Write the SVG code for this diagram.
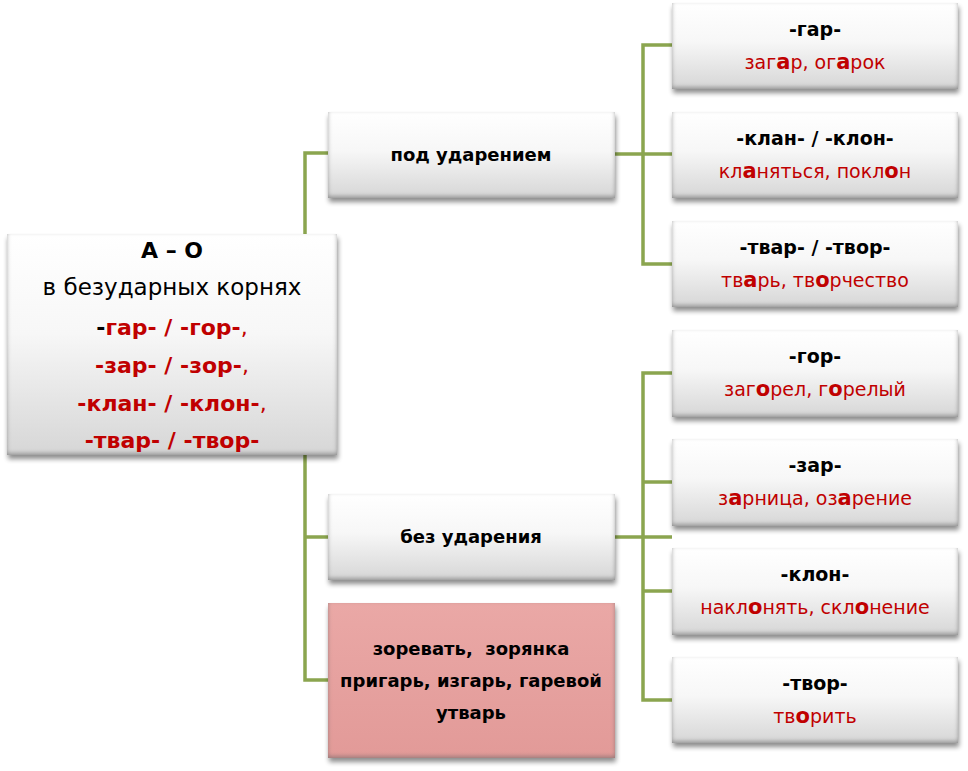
<svg xmlns="http://www.w3.org/2000/svg" width="968" height="771" viewBox="0 0 968 771">
<defs>
<linearGradient id="gw" x1="0" y1="0" x2="0" y2="1">
<stop offset="0" stop-color="#ffffff"/>
<stop offset="0.45" stop-color="#f7f7f7"/>
<stop offset="1" stop-color="#d6d6d6"/>
</linearGradient>
<linearGradient id="gp" x1="0" y1="0" x2="0" y2="1">
<stop offset="0" stop-color="#eaa8a6"/>
<stop offset="1" stop-color="#e29a98"/>
</linearGradient>
<filter id="sh" x="-10%" y="-10%" width="125%" height="130%">
<feGaussianBlur in="SourceAlpha" stdDeviation="2" result="b1"/>
<feOffset in="b1" dy="-2" result="o1"/>
<feComposite in="SourceAlpha" in2="o1" operator="arithmetic" k2="1" k3="-1" result="inner"/>
<feFlood flood-color="#6e6e6e" flood-opacity="0.75"/>
<feComposite in2="inner" operator="in" result="innerc"/>
<feGaussianBlur in="SourceAlpha" stdDeviation="2.5"/>
<feOffset dx="1" dy="4"/>
<feComponentTransfer result="drop"><feFuncA type="linear" slope="0.45"/></feComponentTransfer>
<feMerge><feMergeNode in="drop"/><feMergeNode in="SourceGraphic"/><feMergeNode in="innerc"/></feMerge>
</filter>
</defs>
<style>
.box{fill:url(#gw);filter:url(#sh)}
.pink{fill:url(#gp);filter:url(#sh)}
.con{fill:none;stroke:#8ba54f;stroke-width:3.5}
text{font-family:"DejaVu Sans","Liberation Sans",sans-serif;text-anchor:middle}
.t{font-weight:bold;font-size:18px;fill:#000}
.r{font-weight:bold;font-size:19px;fill:#000}
.s{font-size:19px;fill:#c00000}
.s tspan{font-weight:bold;font-size:21px}
.big{font-size:23px}
.bigb{font-size:22px;font-weight:bold}
.red{fill:#c00000}
</style>
<g id="connectors">
<polyline class="con" points="328,153 305,153 305,680 328,680"/>
<line class="con" x1="305" y1="537" x2="328" y2="537"/>
<polyline class="con" points="672,45 643,45 643,264 672,264"/>
<line class="con" x1="615" y1="154" x2="672" y2="154"/>
<polyline class="con" points="672,373 643,373 643,700 672,700"/>
<line class="con" x1="615" y1="537" x2="672" y2="537"/>
<line class="con" x1="643" y1="482" x2="672" y2="482"/>
<line class="con" x1="643" y1="591" x2="672" y2="591"/>
</g>
<g id="n-root">
<rect class="box" x="7" y="234" width="330" height="221"/>
<text class="bigb" x="172" y="258">А – О</text>
<text class="big" x="172" y="295">в безударных корнях</text>
<text class="bigb red" x="172" y="335"><tspan fill="#000">-</tspan>гар- / -гор-<tspan font-weight="normal">,</tspan></text>
<text class="bigb red" x="172" y="373">-зар- / -зор-<tspan font-weight="normal">,</tspan></text>
<text class="bigb red" x="172" y="411">-клан- / -клон-<tspan font-weight="normal">,</tspan></text>
<text class="bigb red" x="172" y="448">-твар- / -твор-</text>
</g>
<g id="n-stressed">
<rect class="box" x="328" y="112" width="287" height="86"/>
<text class="t" x="471" y="161">под ударением</text>
</g>
<g id="n-unstressed">
<rect class="box" x="328" y="494" width="287" height="86"/>
<text class="t" x="471" y="543">без ударения</text>
</g>
<g id="n-exceptions">
<rect class="pink" x="328" y="603" width="287" height="155"/>
<text class="t" x="471" y="655">зоревать,&#160; зорянка</text>
<text class="t" x="471" y="687">пригарь, изгарь, гаревой</text>
<text class="t" x="471" y="719">утварь</text>
</g>
<g id="n-gar">
<rect class="box" x="672" y="3" width="286" height="86"/>
<text class="r" x="815" y="36">-гар-</text>
<text class="s" x="815" y="69">заг<tspan>а</tspan>р, ог<tspan>а</tspan>рок</text>
</g>
<g id="n-klan">
<rect class="box" x="672" y="112" width="286" height="86"/>
<text class="r" x="815" y="145">-клан- / -клон-</text>
<text class="s" x="815" y="178">кл<tspan>а</tspan>няться, покл<tspan>о</tspan>н</text>
</g>
<g id="n-tvar">
<rect class="box" x="672" y="221" width="286" height="86"/>
<text class="r" x="815" y="254">-твар- / -твор-</text>
<text class="s" x="815" y="287">тв<tspan>а</tspan>рь, тв<tspan>о</tspan>рчество</text>
</g>
<g id="n-gor">
<rect class="box" x="672" y="330" width="286" height="87"/>
<text class="r" x="815" y="363">-гор-</text>
<text class="s" x="815" y="396">заг<tspan>о</tspan>рел, г<tspan>о</tspan>релый</text>
</g>
<g id="n-zar">
<rect class="box" x="672" y="439" width="286" height="87"/>
<text class="r" x="815" y="472">-зар-</text>
<text class="s" x="815" y="505">з<tspan>а</tspan>рница, оз<tspan>а</tspan>рение</text>
</g>
<g id="n-klon">
<rect class="box" x="672" y="548" width="286" height="87"/>
<text class="r" x="815" y="581">-клон-</text>
<text class="s" x="815" y="614">накл<tspan>о</tspan>нять, скл<tspan>о</tspan>нение</text>
</g>
<g id="n-tvor">
<rect class="box" x="672" y="657" width="286" height="86"/>
<text class="r" x="815" y="690">-твор-</text>
<text class="s" x="815" y="723">тв<tspan>о</tspan>рить</text>
</g>
</svg>
